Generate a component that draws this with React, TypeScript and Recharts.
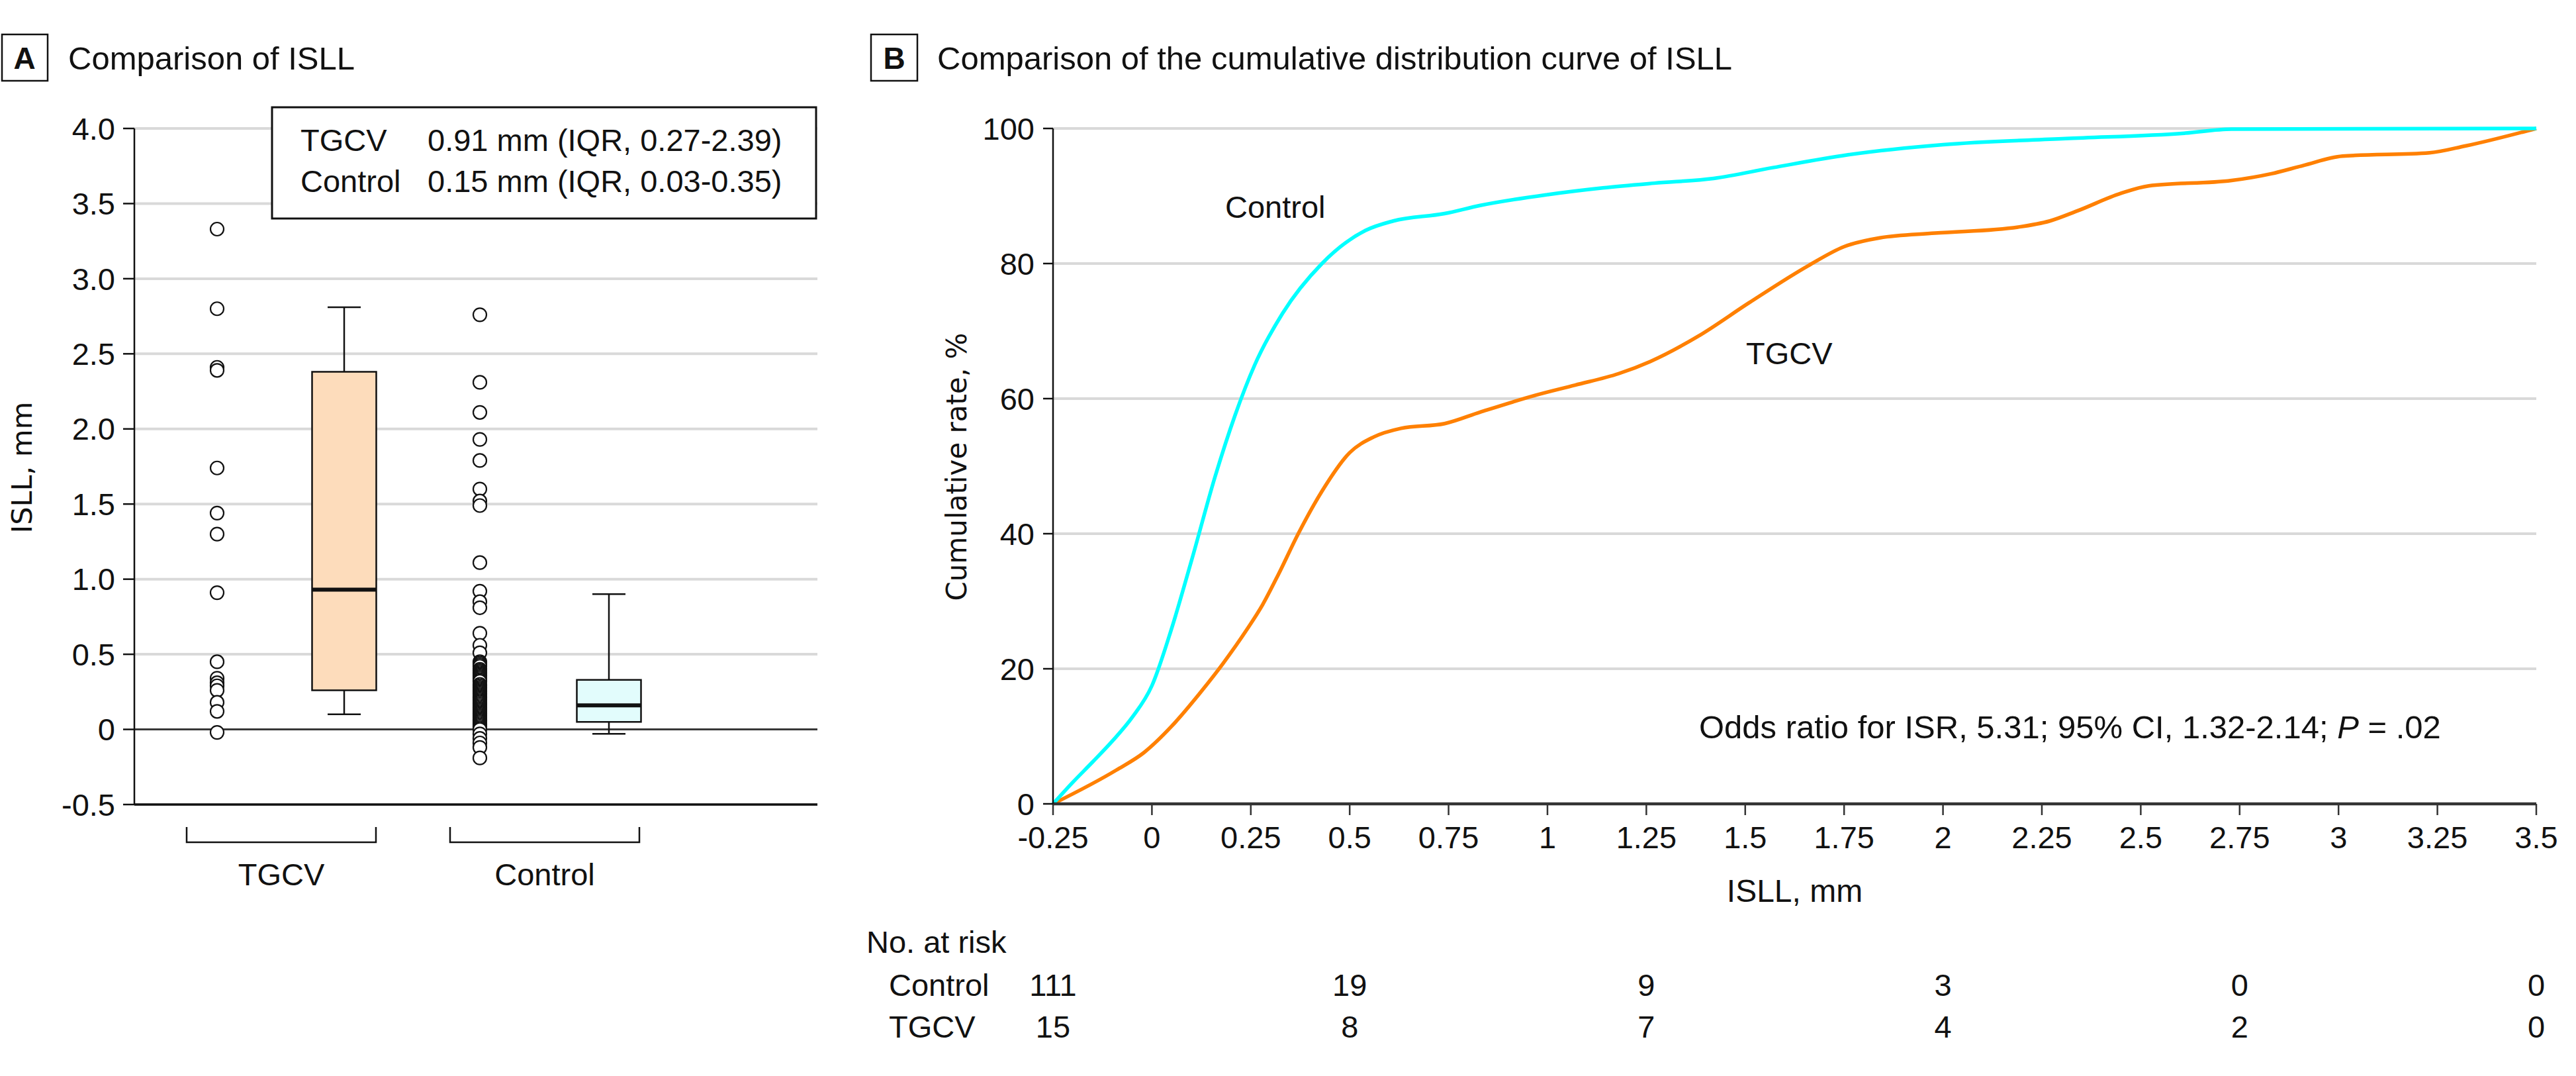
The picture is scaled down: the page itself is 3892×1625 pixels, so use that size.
import React from "react";
import {
  ComposedChart,
  LineChart,
  Line,
  Scatter,
  XAxis,
  YAxis,
  CartesianGrid,
  ReferenceArea,
  ReferenceLine,
} from "recharts";

const FONT = "'Liberation Sans', Arial, sans-serif";
const AXIS_TITLE_FONT = "'DejaVu Sans', Verdana, sans-serif";
const INK = "#111";
const GRID = "#d9d9d9";

// ---- Panel A: ISLL box plots (mm) ----
const groups = ["TGCV", "Control"];
const tgcvOutliers = [3.33, 2.8, 2.41, 2.39, 1.74, 1.44, 1.3, 0.91, 0.45, 0.34, 0.31, 0.29, 0.26, 0.18, 0.12, -0.02];
const controlOutliers = [
  2.76, 2.31, 2.11, 1.93, 1.79, 1.6, 1.52, 1.49, 1.11, 0.92, 0.85, 0.81, 0.64, 0.56, 0.51,
  0.45, 0.44, 0.43, 0.42, 0.4, 0.39, 0.38, 0.37, 0.36, 0.35, 0.34, 0.33, 0.32, 0.3, 0.29,
  0.28, 0.27, 0.26, 0.25, 0.24, 0.23, 0.22, 0.21, 0.2, 0.19, 0.18, 0.17, 0.16, 0.15, 0.14,
  0.13, 0.12, 0.11, 0.1, 0.09, 0.08, 0.07, 0.06, 0.05, 0.04, 0.03, 0.02, 0.01, 0.0,
  -0.03, -0.06, -0.09, -0.12, -0.19,
];
// min, q1, median, q3, max
const tgcvBox = [0.1, 0.26, 0.93, 2.38, 2.81];
const controlBox = [-0.03, 0.05, 0.16, 0.33, 0.9];
const legendNames = ["TGCV", "Control"];
const legendValues = ["0.91 mm (IQR, 0.27-2.39)", "0.15 mm (IQR, 0.03-0.35)"];
const yTicksA = [-0.5, 0, 0.5, 1, 1.5, 2, 2.5, 3, 3.5, 4];

// ---- Panel B: cumulative distribution (%) ----
const controlX = [-0.25, -0.2, -0.15, -0.1, -0.05, 0, 0.05, 0.1, 0.16, 0.21, 0.26, 0.33, 0.43, 0.54, 0.61, 0.74, 0.83, 1.0, 1.14, 1.27, 1.42, 1.57, 1.76, 2.0, 2.31, 2.61, 2.73, 3.5];
const controlPct = [0, 3.2, 6.2, 9.3, 12.8, 17.5, 26, 36, 48.5, 57.5, 65, 72.6, 80, 84.9, 86.3, 87.4, 88.6, 90.2, 91.2, 91.9, 92.6, 94.2, 96.1, 97.6, 98.5, 99.3, 99.9, 100];
const tgcvX = [-0.25, -0.09, -0.02, 0.05, 0.12, 0.18, 0.24, 0.28, 0.32, 0.37, 0.43, 0.5, 0.56, 0.63, 0.74, 0.83, 0.97, 1.07, 1.18, 1.26, 1.38, 1.51, 1.66, 1.75, 1.84, 1.98, 2.19, 2.27, 2.34, 2.45, 2.52, 2.73, 2.83, 2.91, 3.01, 3.23, 3.32, 3.5];
const tgcvPct = [0, 5.0, 7.6, 11.5, 16.3, 20.8, 25.8, 29.5, 34, 40, 46.3, 52, 54.3, 55.6, 56.3, 58.0, 60.5, 62, 63.7, 65.5, 69.2, 74.2, 79.7, 82.5, 83.8, 84.5, 85.4, 86.3, 87.8, 90.4, 91.5, 92.3, 93.3, 94.5, 95.9, 96.4, 97.4, 100];
const xTicksB = [-0.25, 0, 0.25, 0.5, 0.75, 1, 1.25, 1.5, 1.75, 2, 2.25, 2.5, 2.75, 3, 3.25, 3.5];
const yTicksB = [0, 20, 40, 60, 80, 100];
const riskTimes = [-0.25, 0.5, 1.25, 2, 2.75, 3.5];
const controlRisk = [111, 19, 9, 3, 0, 0];
const tgcvRisk = [15, 8, 7, 4, 2, 0];

// layout of panel A on a 0..10.32 slot axis (1 unit = 100px)
const dotSlots = [1.25, 5.22];
const boxSlots = [3.17, 7.17];
const bracketSlots = [2.22, 6.2];
const BOX_HALF = 0.485;
const CAP_HALF = 0.25;

const tickStyle = { fontSize: 47, fill: INK, fontFamily: FONT };

const OutlierDot = (props: any) => (
  <circle cx={props.cx} cy={props.cy} r={10} fill="#fff" stroke={INK} strokeWidth={2.2} />
);

const BracketTick = (props: any) => {
  const { x, y, payload } = props;
  const idx = bracketSlots.indexOf(payload.value);
  const half = 143;
  return (
    <g>
      <path
        d={`M${x - half},${y + 34} V${y + 57} H${x + half} V${y + 34}`}
        fill="none"
        stroke={INK}
        strokeWidth={2.5}
      />
      <text x={x} y={y + 122} textAnchor="middle" fontSize={47} fontFamily={FONT} fill={INK}>
        {groups[idx]}
      </text>
    </g>
  );
};

// x tick of panel B, plus the number-at-risk rows under the matching ticks
const RiskTick = (props: any) => {
  const { x, y, payload } = props;
  const v = payload.value;
  const r = riskTimes.indexOf(v);
  return (
    <g fontSize={47} fontFamily={FONT} fill={INK} textAnchor="middle">
      <text x={x} y={y} dy="0.71em">{String(v)}</text>
      {r >= 0 && <text x={x} y={y + 256}>{controlRisk[r]}</text>}
      {r >= 0 && <text x={x} y={y + 319}>{tgcvRisk[r]}</text>}
    </g>
  );
};

function boxParts(stats: number[], cx: number, fill: string, key: string) {
  const [lo, q1, med, q3, hi] = stats;
  return [
    <ReferenceLine key={key + "w1"} segment={[{ x: cx, y: q3 }, { x: cx, y: hi }]} stroke={INK} strokeWidth={2.5} />,
    <ReferenceLine key={key + "w2"} segment={[{ x: cx, y: lo }, { x: cx, y: q1 }]} stroke={INK} strokeWidth={2.5} />,
    <ReferenceLine key={key + "c1"} segment={[{ x: cx - CAP_HALF, y: hi }, { x: cx + CAP_HALF, y: hi }]} stroke={INK} strokeWidth={2.5} />,
    <ReferenceLine key={key + "c2"} segment={[{ x: cx - CAP_HALF, y: lo }, { x: cx + CAP_HALF, y: lo }]} stroke={INK} strokeWidth={2.5} />,
    <ReferenceArea
      key={key + "b"}
      x1={cx - BOX_HALF}
      x2={cx + BOX_HALF}
      y1={q1}
      y2={q3}
      fill={fill}
      fillOpacity={1}
      stroke={INK}
      strokeWidth={2.5}
    />,
    <ReferenceLine key={key + "m"} segment={[{ x: cx - BOX_HALF, y: med }, { x: cx + BOX_HALF, y: med }]} stroke={INK} strokeWidth={6} />,
  ];
}

function PanelA() {
  const tgcvPts = tgcvOutliers.map((v) => ({ x: dotSlots[0], y: v }));
  const controlPts = controlOutliers.map((v) => ({ x: dotSlots[1], y: v }));
  return (
    <ComposedChart width={1300} height={1400} margin={{ top: 194, right: 65, bottom: 35, left: 0 }}>
      <CartesianGrid vertical={false} stroke={GRID} strokeWidth={4} />
      <XAxis
        type="number"
        dataKey="x"
        domain={[0, 10.32]}
        ticks={bracketSlots}
        interval={0}
        tick={<BracketTick />}
        tickLine={false}
        tickSize={0}
        tickMargin={0}
        height={150}
        axisLine={{ stroke: INK, strokeWidth: 3.5 }}
      />
      <YAxis
        type="number"
        dataKey="y"
        domain={[-0.5, 4]}
        ticks={yTicksA}
        interval={0}
        width={203}
        tickFormatter={(v: number) => (v === 0 ? "0" : v.toFixed(1))}
        tick={tickStyle}
        tickSize={17}
        tickMargin={12}
        axisLine={{ stroke: INK, strokeWidth: 2.5 }}
        tickLine={{ stroke: INK, strokeWidth: 2.5 }}
      />
      <ReferenceLine y={0} stroke="#222" strokeWidth={2.5} />
      {boxParts(tgcvBox, boxSlots[0], "#fddcbb", "t")}
      {boxParts(controlBox, boxSlots[1], "#e2fcfc", "c")}
      <Scatter data={tgcvPts} shape={<OutlierDot />} isAnimationActive={false} />
      <Scatter data={controlPts} shape={<OutlierDot />} isAnimationActive={false} />
    </ComposedChart>
  );
}

function PanelB() {
  const controlData = controlX.map((x, i) => ({ x, p: controlPct[i] }));
  const tgcvData = tgcvX.map((x, i) => ({ x, p: tgcvPct[i] }));
  return (
    <LineChart width={2592} height={1625} margin={{ top: 194, right: 60, bottom: 211, left: 0 }}>
      <CartesianGrid vertical={false} stroke={GRID} strokeWidth={4} />
      <XAxis
        type="number"
        dataKey="x"
        domain={[-0.25, 3.5]}
        ticks={xTicksB}
        interval={0}
        height={200}
        tick={<RiskTick />}
        tickSize={17}
        tickMargin={17}
        axisLine={{ stroke: "#333", strokeWidth: 4.5 }}
        tickLine={{ stroke: "#333", strokeWidth: 2.5 }}
        label={{ value: "ISLL, mm", position: "insideBottom", offset: 52, fontSize: 48, fill: INK, fontFamily: FONT }}
      />
      <YAxis
        type="number"
        domain={[0, 100]}
        ticks={yTicksB}
        interval={0}
        width={291}
        tick={tickStyle}
        tickSize={15}
        tickMargin={13}
        axisLine={{ stroke: INK, strokeWidth: 2.5 }}
        tickLine={{ stroke: INK, strokeWidth: 2.5 }}
      />
      <Line
        data={tgcvData}
        dataKey="p"
        type="monotone"
        stroke="#ff8000"
        strokeWidth={5.5}
        dot={false}
        isAnimationActive={false}
      />
      <Line
        data={controlData}
        dataKey="p"
        type="monotone"
        stroke="#00ffff"
        strokeWidth={5.5}
        dot={false}
        isAnimationActive={false}
      />
    </LineChart>
  );
}

function Overlay() {
  return (
    <svg
      width={3892}
      height={1625}
      style={{ position: "absolute", left: 0, top: 0, pointerEvents: "none" }}
      fontFamily={FONT}
      fill={INK}
    >
      {/* panel headers */}
      <rect x={3} y={52} width={69} height={70} fill="none" stroke={INK} strokeWidth={2.5} />
      <text x={37} y={104} textAnchor="middle" fontWeight="bold" fontSize={46}>A</text>
      <text x={103} y={105} fontSize={49}>Comparison of ISLL</text>
      <rect x={1316} y={52} width={70} height={70} fill="none" stroke={INK} strokeWidth={2.5} />
      <text x={1351} y={104} textAnchor="middle" fontWeight="bold" fontSize={46}>B</text>
      <text x={1416} y={105} fontSize={49}>Comparison of the cumulative distribution curve of ISLL</text>

      {/* panel A summary box */}
      <rect x={411} y={162} width={822} height={168} fill="#fff" stroke={INK} strokeWidth={3} />
      {legendNames.map((n, i) => (
        <g key={n}>
          <text x={454} y={228 + i * 62} fontSize={47}>{n}</text>
          <text x={646} y={228 + i * 62} fontSize={47}>{legendValues[i]}</text>
        </g>
      ))}

      {/* axis titles */}
      <text
        x={33}
        y={706}
        fontFamily={AXIS_TITLE_FONT}
        fontSize={43}
        textAnchor="middle"
        dominantBaseline="central"
        transform="rotate(-90 33 706)"
      >
        ISLL, mm
      </text>
      <text
        x={1445}
        y={705}
        fontFamily={AXIS_TITLE_FONT}
        fontSize={42}
        textAnchor="middle"
        dominantBaseline="central"
        transform="rotate(-90 1445 705)"
      >
        Cumulative rate, %
      </text>

      {/* panel B annotations */}
      <text x={1851} y={329} fontSize={47}>Control</text>
      <text x={2638} y={550} fontSize={47}>TGCV</text>
      <text x={2567} y={1115} fontSize={49}>
        Odds ratio for ISR, 5.31; 95% CI, 1.32-2.14; <tspan fontStyle="italic">P</tspan> = .02
      </text>

      {/* number at risk */}
      <text x={1309} y={1439} fontSize={47}>No. at risk</text>
      <text x={1343} y={1504} fontSize={47}>Control</text>
      <text x={1343} y={1567} fontSize={47}>TGCV</text>
    </svg>
  );
}

export default function App() {
  return (
    <div
      style={{
        position: "absolute",
        left: 0,
        top: 0,
        width: 3892,
        height: 1625,
        background: "#fff",
        fontFamily: FONT,
      }}
    >
      <div style={{ position: "absolute", left: 0, top: 0 }}>
        <PanelA />
      </div>
      <div style={{ position: "absolute", left: 1300, top: 0 }}>
        <PanelB />
      </div>
      <Overlay />
    </div>
  );
}
